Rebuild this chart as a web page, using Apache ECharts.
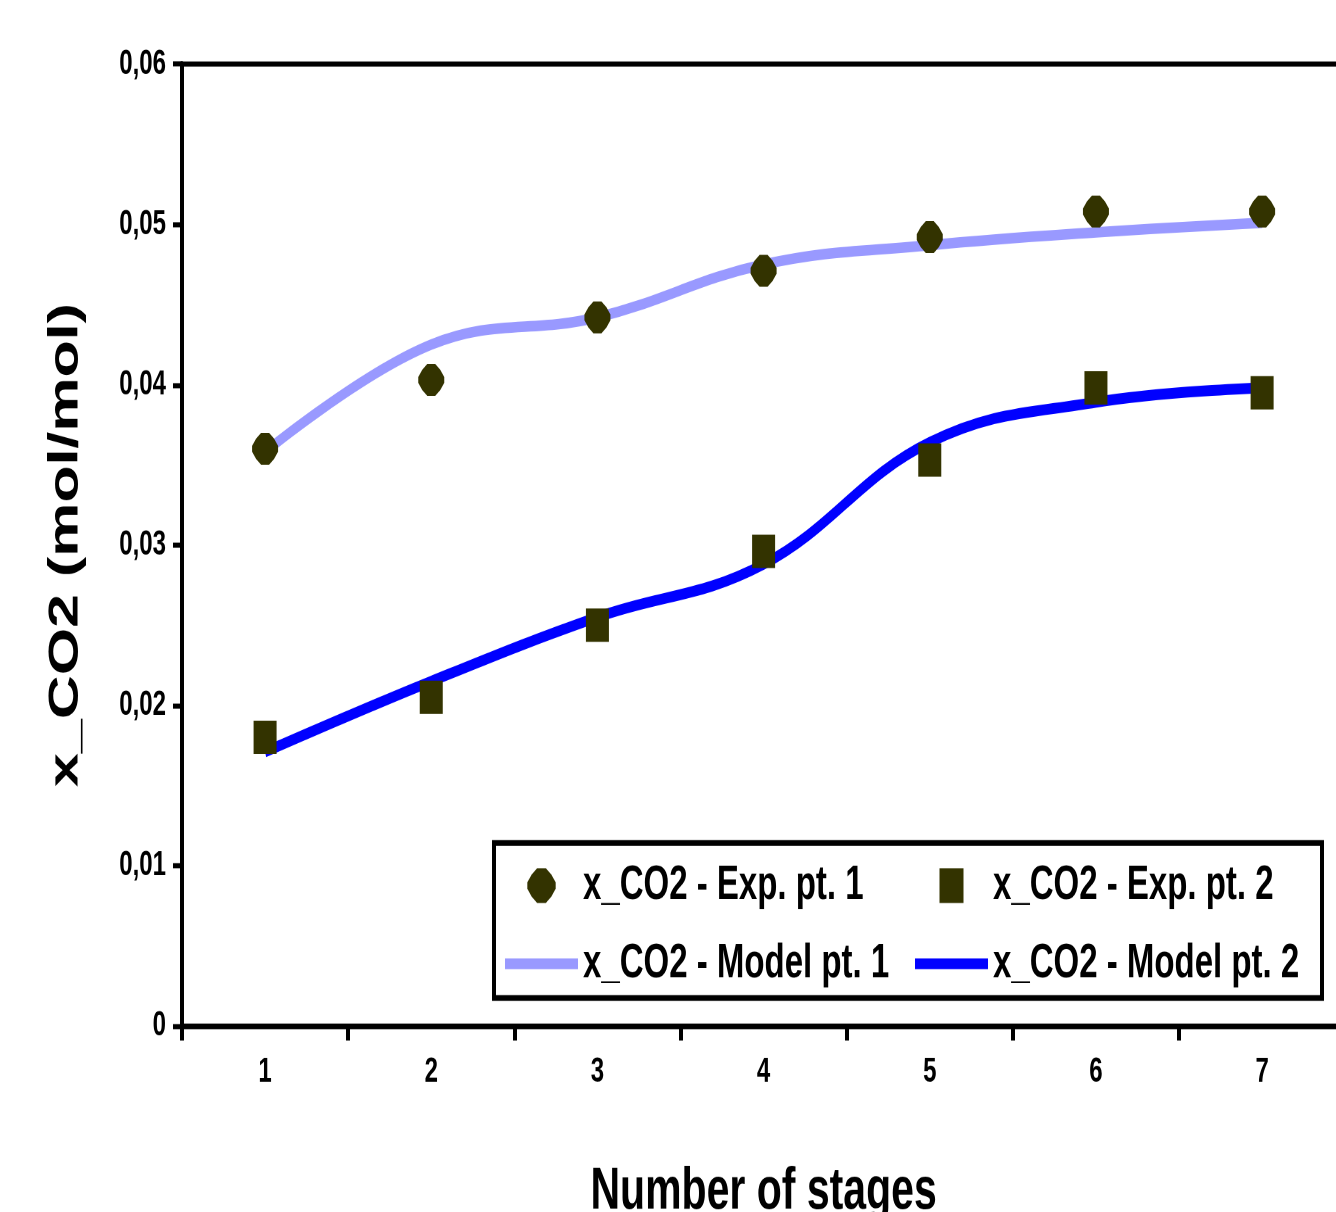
<!DOCTYPE html>
<html>
<head>
<meta charset="utf-8">
<script src="https://cdn.jsdelivr.net/npm/echarts@6/dist/echarts.min.js"></script>
<style>
html,body{margin:0;padding:0;background:#fff;width:1336px;height:1212px;}
#wrap{position:relative;width:1336px;height:1212px;overflow:hidden;}
#c{position:absolute;left:0;top:0;width:1336px;height:836px;transform:scaleY(1.45);transform-origin:0 0;}
</style>
</head>
<body>
<div id="wrap"><div id="c"></div></div>
<script>
// ---- data ----
var categories = ['1', '2', '3', '4', '5', '6', '7'];
var expPt1   = [0.0360, 0.0403, 0.0442, 0.0471, 0.0492, 0.0508, 0.0508];
var expPt2   = [0.0180, 0.0205, 0.0250, 0.0296, 0.0353, 0.0398, 0.0395];
var modelPt1 = [0.0358, 0.0425, 0.0442, 0.0475, 0.0487, 0.0495, 0.0501];
var modelPt2 = [0.0171, 0.0215, 0.0255, 0.0288, 0.0364, 0.0389, 0.0398];
var yTickLabels = ['0', '0,01', '0,02', '0,03', '0,04', '0,05', '0,06'];
var seriesNames = ['x_CO2 - Exp. pt. 1', 'x_CO2 - Exp. pt. 2', 'x_CO2 - Model pt. 1', 'x_CO2 - Model pt. 2'];

var FONT = "'Liberation Sans', Arial, sans-serif";
var S = 1.45; // vertical stretch of the original picture
var octa = 'path://M9,0 L17,0 L22,4 L26,9 L26,13 L22,18 L17,22 L9,22 L4,18 L0,13 L0,9 L4,4 Z';
var squareIcon = 'path://M0,0 L23,0 L23,23 L0,23 Z';
var lineIcon = 'path://M0,0 L73,0 L73,7.3 L0,7.3 Z';

var chart = echarts.init(document.getElementById('c'), null, {renderer: 'canvas', devicePixelRatio: 2});

var legendCommon = {
  orient: 'vertical',
  top: 610.7 - 18,
  itemWidth: 73,
  itemHeight: 24,
  itemGap: 18,
  padding: 0,
  selectedMode: false,
  z: 60,
  textStyle: {fontFamily: FONT, fontSize: 33, fontWeight: 'bold', color: '#000', lineHeight: 36}
};

var option = {
  animation: false,
  backgroundColor: '#fff',
  grid: {
    left: 182, top: 64 / S, width: 1163.2, height: (1026 - 64) / S,
    show: true, borderColor: '#000', borderWidth: 3.5, backgroundColor: 'transparent',
    containLabel: false, outerBoundsMode: 'none'
  },
  graphic: [{
    type: 'rect', z: 50,
    shape: {x: 494, y: 843 / S, width: 1322 - 494, height: (998 - 843) / S},
    style: {fill: '#fff', stroke: '#000', lineWidth: 4}
  }],
  legend: [
    Object.assign({}, legendCommon, {left: 505, data: [
      {name: seriesNames[0], icon: octa},
      {name: seriesNames[2], icon: lineIcon}
    ]}),
    Object.assign({}, legendCommon, {left: 915, data: [
      {name: seriesNames[1], icon: squareIcon},
      {name: seriesNames[3], icon: lineIcon}
    ]})
  ],
  xAxis: {
    type: 'category',
    data: categories,
    boundaryGap: true,
    name: 'Number of stages',
    nameLocation: 'middle',
    nameGap: 94,
    nameTextStyle: {fontFamily: FONT, fontSize: 41, fontWeight: 'bold', color: '#000'},
    axisLine: {lineStyle: {color: '#000', width: 3.5}},
    axisTick: {show: true, length: 10, lineStyle: {color: '#000', width: 4}},
    axisLabel: {fontFamily: FONT, fontSize: 24, fontWeight: 'bold', color: '#000', margin: 20},
    splitLine: {show: false}
  },
  yAxis: {
    type: 'value',
    min: 0, max: 0.06, interval: 0.01,
    name: 'x_CO2 (mol/mol)',
    nameLocation: 'middle',
    nameGap: 95,
    nameTextStyle: {fontFamily: FONT, fontSize: 42, fontWeight: 'bold', color: '#000'},
    axisLine: {show: true, lineStyle: {color: '#000', width: 4}},
    axisTick: {show: true, length: 9, lineStyle: {color: '#000', width: 3.5}},
    axisLabel: {
      fontFamily: FONT, fontSize: 24, fontWeight: 'bold', color: '#000', margin: 16,
      padding: [0, 0, 6, 0],
      formatter: function (v) { return yTickLabels[Math.round(v / 0.01)]; }
    },
    splitLine: {show: false}
  },
  series: [
    {
      name: seriesNames[2], type: 'line', data: modelPt1, smooth: 0.4,
      symbol: 'none', z: 2,
      lineStyle: {color: '#9999FF', width: 7.3}, itemStyle: {color: '#9999FF'},
      emphasis: {disabled: true}
    },
    {
      name: seriesNames[3], type: 'line', data: modelPt2, smooth: 0.4,
      symbol: 'none', z: 2,
      lineStyle: {color: '#0000FF', width: 7.5}, itemStyle: {color: '#0000FF'},
      emphasis: {disabled: true}
    },
    {
      name: seriesNames[0], type: 'scatter', data: expPt1, z: 5,
      symbol: octa, symbolSize: [26, 22], symbolKeepAspect: false,
      itemStyle: {color: '#333300', opacity: 1},
      emphasis: {disabled: true}
    },
    {
      name: seriesNames[1], type: 'scatter', data: expPt2, z: 5,
      symbol: 'rect', symbolSize: [23, 23],
      itemStyle: {color: '#333300', opacity: 1},
      emphasis: {disabled: true}
    }
  ]
};
chart.setOption(option);
</script>
</body>
</html>
